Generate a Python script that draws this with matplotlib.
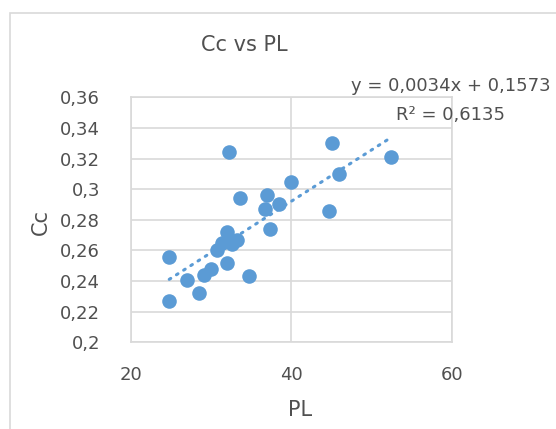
import matplotlib.pyplot as plt
import matplotlib.patches as patches
import numpy as np

# PL vs Cc values
pl = [24.8, 24.8, 27.0, 28.5, 29.1, 30.0, 30.7, 31.4, 32.0, 32.0, 32.6, 33.2,
      32.2, 33.6, 34.8, 36.7, 37.0, 37.3, 38.5, 40.0, 45.1, 44.7, 46.0, 52.4]
cc = [0.256, 0.227, 0.241, 0.232, 0.244, 0.248, 0.260, 0.265, 0.272, 0.252, 0.264, 0.267,
      0.324, 0.294, 0.243, 0.287, 0.296, 0.274, 0.290, 0.305, 0.330, 0.286, 0.310, 0.321]

x_ticks = [20, 40, 60]
x_labels = ['20', '40', '60']
y_ticks = [0.20, 0.22, 0.24, 0.26, 0.28, 0.30, 0.32, 0.34, 0.36]
y_labels = ['0,2', '0,22', '0,24', '0,26', '0,28', '0,3', '0,32', '0,34', '0,36']

blue = '#5B9BD5'
grid = '#D9D9D9'
txt = '#505050'

W, H = 556, 429
fig = plt.figure(figsize=(W / 100, H / 100), dpi=100)

# chart area border (only left and top visible in the crop)
fig.patches.append(patches.Rectangle((10 / W, -0.1), 1.2, (H - 13) / H + 0.1,
                                     transform=fig.transFigure, fill=False,
                                     edgecolor=grid, linewidth=1.2))

ax = fig.add_axes([130.7 / W, 1 - 342.3 / H, 321 / W, 245 / H])
ax.set_xlim(20, 60)
ax.set_ylim(0.2, 0.36)
ax.set_xticks(x_ticks)
ax.set_xticklabels(x_labels)
ax.set_yticks(y_ticks)
ax.set_yticklabels(y_labels)
ax.tick_params(length=0, labelsize=13, labelcolor=txt)
ax.tick_params(axis='y', pad=22)
ax.tick_params(axis='x', pad=17)
ax.grid(True, color=grid, linewidth=1.2)
ax.set_axisbelow(True)
for s in ax.spines.values():
    s.set_color(grid)
    s.set_linewidth(1.2)

ax.scatter(pl, cc, s=110, color=blue, zorder=3, linewidths=0)

# linear trendline
k, b = np.polyfit(pl, cc, 1)
xs = np.array([min(pl), max(pl)])
ax.plot(xs, k * xs + b, color=blue, linewidth=2.2, linestyle=(0, (0.6, 2.2)),
        dash_capstyle='round', zorder=2)

fig.text(244 / W, 1 - 45 / H, 'Cc vs PL', ha='center', va='center', fontsize=15, color=txt)
fig.text(300 / W, 1 - 410 / H, 'PL', ha='center', va='center', fontsize=15, color=txt)
fig.text(41 / W, 1 - 222 / H, 'Cc', ha='center', va='center', fontsize=15, color=txt, rotation=90)
fig.text(551 / W, 1 - 86 / H, 'y = 0,0034x + 0,1573', ha='right', va='center', fontsize=13, color=txt)
fig.text(505 / W, 1 - 115 / H, 'R² = 0,6135', ha='right', va='center', fontsize=13, color=txt)

fig.savefig('out.png', dpi=100)
